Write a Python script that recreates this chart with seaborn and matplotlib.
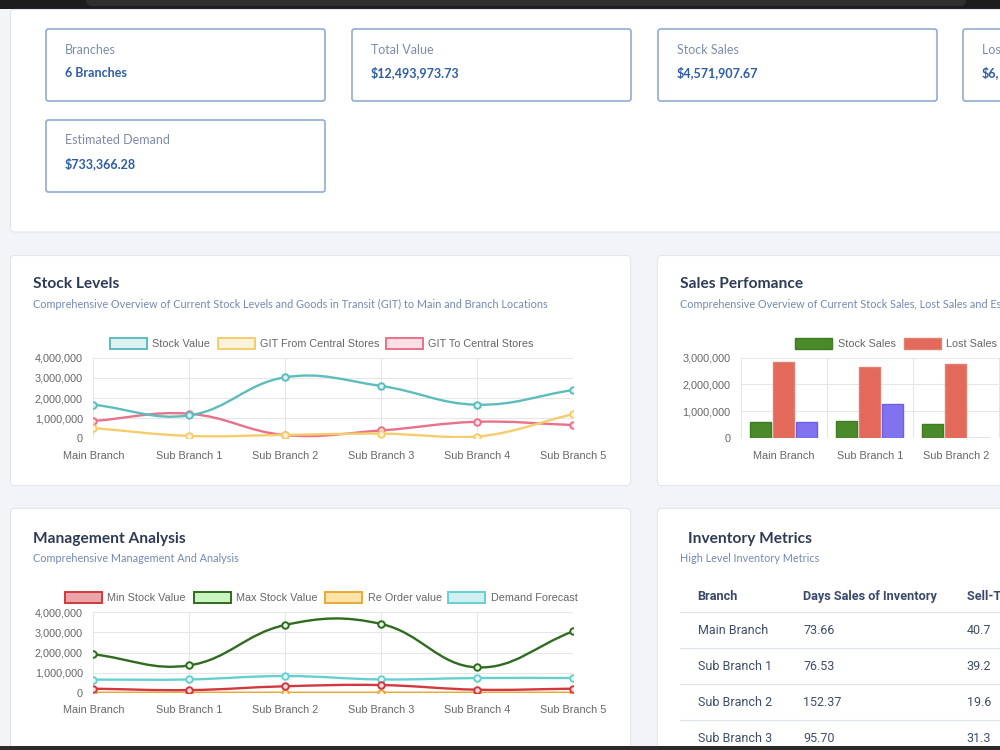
import numpy as np
import pandas as pd
import matplotlib
matplotlib.use("Agg")
import matplotlib.pyplot as plt
import seaborn as sns
from matplotlib.patches import FancyBboxPatch, Rectangle, PathPatch
from matplotlib.path import Path
from matplotlib.ticker import FuncFormatter, FixedLocator

# ---------------- data ----------------
branches = ["Main Branch", "Sub Branch 1", "Sub Branch 2", "Sub Branch 3", "Sub Branch 4", "Sub Branch 5"]

stock_value = [1.67e6, 1.14e6, 3.03e6, 2.60e6, 1.67e6, 2.40e6]
git_from_central = [0.51e6, 0.12e6, 0.17e6, 0.23e6, 0.08e6, 1.20e6]
git_to_central = [0.86e6, 1.22e6, 0.16e6, 0.39e6, 0.82e6, 0.66e6]

sales_branches = ["Main Branch", "Sub Branch 1", "Sub Branch 2"]
stock_sales = [0.60e6, 0.62e6, 0.52e6]
lost_sales = [2.84e6, 2.67e6, 2.78e6]
est_demand = [0.60e6, 1.28e6, 0.0]

min_stock = [0.20e6, 0.13e6, 0.32e6, 0.38e6, 0.15e6, 0.20e6]
max_stock = [1.91e6, 1.36e6, 3.37e6, 3.42e6, 1.26e6, 3.05e6]
reorder_value = [0.0, 0.0, 0.0, 0.0, 0.0, 0.0]
demand_forecast = [0.65e6, 0.66e6, 0.83e6, 0.66e6, 0.73e6, 0.73e6]

kpi_labels = ["Branches", "Total Value", "Stock Sales", "Lost Sales", "Estimated Demand"]
kpi_values = ["6 Branches", "$12,493,973.73", "$4,571,907.67", "$6,", "$733,366.28"]

table_header = ["Branch", "Days Sales of Inventory", "Sell-Through Rate"]
table_branches = ["Main Branch", "Sub Branch 1", "Sub Branch 2", "Sub Branch 3"]
days_sales = ["73.66", "76.53", "152.37", "95.70"]
sell_through = ["40.7", "39.2", "19.6", "31.3"]

# ---------------- setup ----------------
W, H = 1000, 750
fig = plt.figure(figsize=(10, 7.5), dpi=100)
fig.patch.set_facecolor("#f3f4f8")
sns.set_style("white")
TITLE_FONT = "Lato"
CJS_FONT = "Liberation Sans"
TAB_FONT = "Roboto"

bg = fig.add_axes([0, 0, 1, 1], zorder=0)
bg.set_xlim(0, W)
bg.set_ylim(H, 0)
bg.axis("off")


def card(x, y, w, h, edge="#e2e5ec", lw=0.8, r=4, fc="white"):
    bg.add_patch(FancyBboxPatch((x, y), w, h, boxstyle=f"round,pad=0,rounding_size={r}",
                                fc=fc, ec=edge, lw=lw))


def px_axes(x0, y_top, x1, y_bot):
    return fig.add_axes([x0 / W, 1 - y_bot / H, (x1 - x0) / W, (y_bot - y_top) / H], zorder=2)


# top/bottom dark bands
bg.add_patch(Rectangle((0, -5), W, 14, fc="#1d1d1d", ec="none"))
bg.add_patch(FancyBboxPatch((86, -10), 880, 16, boxstyle="round,pad=0,rounding_size=6",
                            fc="#2f2f2f", ec="none"))

# cards
card(10.5, 9.5, 1010, 222.5)
card(10.5, 255.5, 620, 230)
card(657.5, 255.5, 400, 230)
card(10.5, 508.5, 620, 260)
card(657.5, 508.5, 400, 260)
bg.add_patch(Rectangle((0, 746), W, 10, fc="#2b2b2b", ec="none"))

# KPI boxes
kpi_pos = [(46, 29), (352, 29), (658, 29), (963, 29), (46, 120)]
for (bx, by), lab, val in zip(kpi_pos, kpi_labels, kpi_values):
    card(bx, by, 279, 72, edge="#90abd3", lw=1.2, r=2.5)
    bg.text(bx + 19, by + 20.5, lab, fontsize=9, family=TITLE_FONT, color="#7d8ca8", va="center")
    bg.text(bx + 19, by + 44, val, fontsize=9, family=TITLE_FONT, weight="bold", color="#2d5ca8",
            va="center")

# titles
titles = [
    (33, 284.5, "Stock Levels", 33, 304.5,
     "Comprehensive Overview of Current Stock Levels and Goods in Transit (GIT) to Main and Branch Locations"),
    (680, 284.5, "Sales Perfomance", 680, 304.5,
     "Comprehensive Overview of Current Stock Sales, Lost Sales and Estimated Demand"),
    (33, 538.5, "Management Analysis", 33, 559, "Comprehensive Management And Analysis"),
    (688, 538.5, "Inventory Metrics", 680, 559, "High Level Inventory Metrics"),
]
for tx, ty, t, sx, sy, s in titles:
    bg.text(tx, ty, t, fontsize=11.2, family=TITLE_FONT, weight="bold", color="#2e3b56", va="center")
    bg.text(sx, sy, s, fontsize=7.8, family=TITLE_FONT, color="#7489b2", va="center")


def legend_item(x, yc, label, face, edge, lw=1.4, w=37, h=11):
    bg.add_patch(Rectangle((x, yc - h / 2), w, h, fc=face, ec=edge, lw=lw))
    bg.text(x + w + 5.5, yc + 0.5, label, fontsize=7.8, family=CJS_FONT, color="#666666", va="center")


# ---------------- helpers ----------------
fmt = FuncFormatter(lambda v, p: f"{int(round(v)):,}")
GRID = "#e6e6e6"


def style_axes(ax, ymax, step):
    ax.set_facecolor("none")
    for s in ax.spines.values():
        s.set_visible(False)
    ax.set_ylim(0, ymax)
    ax.yaxis.set_major_locator(FixedLocator(np.arange(0, ymax + 1, step)))
    ax.yaxis.set_major_formatter(fmt)
    ax.grid(True, which="major", color=GRID, lw=0.75)
    ax.set_axisbelow(True)
    ax.tick_params(axis="both", which="major", length=5, width=0.75, color=GRID,
                   labelsize=7.8, labelcolor="#666666")
    ax.tick_params(axis="y", pad=2.5)
    ax.tick_params(axis="x", pad=4)
    for lab in ax.get_xticklabels() + ax.get_yticklabels():
        lab.set_family(CJS_FONT)
    ax.set_xlabel("")
    ax.set_ylabel("")


def chartjs_path(ax, xs, ys, tension=0.4):
    p = ax.transData.transform(np.column_stack([xs, ys]).astype(float))
    n = len(p)
    pc = np.zeros_like(p)
    nc = np.zeros_like(p)
    for i in range(n):
        cur = p[i]
        prv = p[i - 1] if i > 0 else cur
        nxt = p[i + 1] if i < n - 1 else cur
        d01 = np.hypot(*(cur - prv))
        d12 = np.hypot(*(nxt - cur))
        tot = d01 + d12
        s01 = d01 / tot if tot else 0
        s12 = d12 / tot if tot else 0
        pc[i] = cur - tension * s01 * (nxt - prv)
        nc[i] = cur + tension * s12 * (nxt - prv)
    bb = ax.bbox
    for arr in (pc, nc):
        arr[:, 0] = np.clip(arr[:, 0], bb.x0, bb.x1)
        arr[:, 1] = np.clip(arr[:, 1], bb.y0, bb.y1)
    verts = [p[0]]
    codes = [Path.MOVETO]
    for i in range(n - 1):
        verts += [nc[i], pc[i + 1], p[i + 1]]
        codes += [Path.CURVE4] * 3
    return Path(ax.transData.inverted().transform(np.array(verts)), codes)


def line_series(ax, ys, color, mfc, z):
    xs = np.arange(len(ys))
    ax.add_patch(PathPatch(chartjs_path(ax, xs, ys), fc="none", ec=color, lw=1.7, zorder=z,
                           capstyle="round", joinstyle="round"))
    sns.scatterplot(x=xs, y=ys, ax=ax, s=22, color=mfc, edgecolor=color, linewidth=1.4,
                    zorder=z + 0.5, legend=False)


# ---------------- Stock Levels ----------------
TEAL, YEL, PINK = "#5dbcbc", "#f6cd6c", "#e9718a"
legend_item(109.5, 343.7, "Stock Value", "#dcf1f1", TEAL)
legend_item(217.7, 343.7, "GIT From Central Stores", "#fdf3dc", YEL)
legend_item(385.8, 343.7, "GIT To Central Stores", "#fbe0e6", PINK)
ax1 = px_axes(93.3, 357.8, 573, 438.3)
ax1.set_xlim(0, 5)
ax1.set_ylim(0, 4e6)
style_axes(ax1, 4e6, 1e6)
ax1.set_xticks(range(len(branches)))
ax1.set_xticklabels(branches, family=CJS_FONT)
line_series(ax1, git_to_central, PINK, "#fbe0e6", 3)
line_series(ax1, git_from_central, YEL, "#fdf3dc", 5)
line_series(ax1, stock_value, TEAL, "#dcf1f1", 7)
ax1.set_xlim(0, 5)
ax1.set_ylim(0, 4e6)

# ---------------- Management Analysis ----------------
RED, GREEN, ORANGE, CYAN = "#d2383f", "#2f6b20", "#e9a83a", "#66d0d0"
legend_item(64.6, 597.7, "Min Stock Value", "#eba5a8", RED)
legend_item(193.7, 597.7, "Max Stock Value", "#c8f5c0", GREEN)
legend_item(325.3, 597.7, "Re Order value", "#fbe4a6", ORANGE)
legend_item(448.4, 597.7, "Demand Forecast", "#d0eff0", CYAN)
ax2 = px_axes(93.3, 612.3, 573, 692.7)
ax2.set_xlim(0, 5)
ax2.set_ylim(0, 4e6)
style_axes(ax2, 4e6, 1e6)
ax2.set_xticks(range(len(branches)))
ax2.set_xticklabels(branches, family=CJS_FONT)
line_series(ax2, demand_forecast, CYAN, "#e8f8f8", 3)
line_series(ax2, reorder_value, ORANGE, "#fdf1d6", 5)
line_series(ax2, max_stock, GREEN, "#e3f7df", 7)
line_series(ax2, min_stock, RED, "#f6dcdd", 9)
ax2.set_xlim(0, 5)
ax2.set_ylim(0, 4e6)

# ---------------- Sales Performance ----------------
SG, SR, SP = "#4b8a2b", "#e3695a", "#8172ef"
legend_item(795.3, 343.3, "Stock Sales", SG, "#3f7d22", lw=1.0)
legend_item(904, 343.3, "Lost Sales", SR, "#e0806f", lw=1.0)
legend_item(1012, 343.3, "Estimated Demand", SP, "#6f5fe8", lw=1.0)
df = pd.DataFrame({
    "branch": sales_branches * 3,
    "series": ["Stock Sales"] * 3 + ["Lost Sales"] * 3 + ["Estimated Demand"] * 3,
    "value": stock_sales + lost_sales + est_demand,
})
ax3 = px_axes(740.7, 357.7, 1000, 438)
sns.barplot(data=df, x="branch", y="value", hue="series", palette=[SG, SR, SP], ax=ax3,
            width=0.8, gap=0.1, saturation=1, legend=False, linewidth=1.0, edgecolor="#00000000")
edge_map = {SG: "#3f7d22", SR: "#e0806f", SP: "#6f5fe8"}
for patch in ax3.patches:
    fcol = matplotlib.colors.to_hex(patch.get_facecolor())
    patch.set_edgecolor(edge_map.get(fcol, fcol))
style_axes(ax3, 3e6, 1e6)
ax3.set_xlim(-0.5, -0.5 + (1000 - 740.7) / 86.0)
ax3.xaxis.set_major_locator(FixedLocator([-0.5, 0.5, 1.5, 2.5]))
ax3.xaxis.set_major_formatter(FuncFormatter(lambda v, p: ""))
ax3.set_xticks([0, 1, 2], minor=True)
ax3.set_xticklabels(sales_branches, minor=True, family=CJS_FONT)
ax3.tick_params(axis="x", which="minor", length=0, pad=9.5, labelsize=7.8, labelcolor="#666666")
ax3.grid(True, axis="x", which="major", color=GRID, lw=0.75)
ax3.grid(False, axis="x", which="minor")

# ---------------- Inventory Metrics table ----------------
col_x = [697.7, 803, 966.7]
for cx, h in zip(col_x, table_header):
    bg.text(cx, 596.7, h, fontsize=9.2, family=TAB_FONT, weight="bold", color="#3b4a6b", va="center")
for ly in [612.3, 648.3, 684.3, 720.3]:
    bg.plot([680, 1000], [ly, ly], color="#dfe3ea", lw=0.8)
row_y = [630, 666.3, 702.3, 738.3]
for ry, b, d, s in zip(row_y, table_branches, days_sales, sell_through):
    for cx, t in zip(col_x, [b, d, s]):
        bg.text(cx, ry, t, fontsize=9, family=TAB_FONT, color="#3f4d6a", va="center")

fig.savefig("out.png", dpi=100, facecolor=fig.get_facecolor())
